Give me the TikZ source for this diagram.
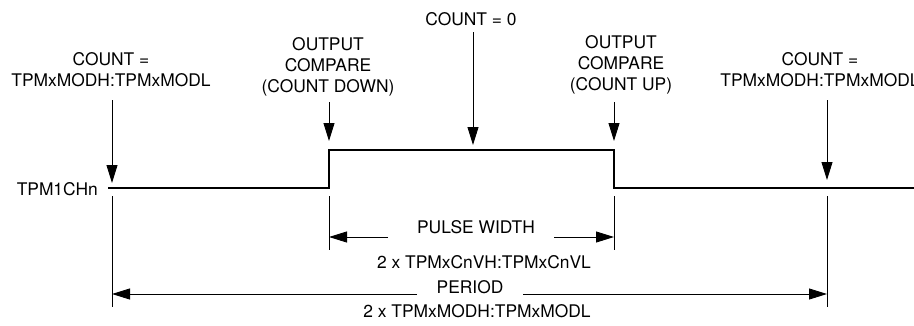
\documentclass[tikz,border=0pt]{standalone}
\usepackage{fontspec}
\setmainfont{TeX Gyre Heros}
\usetikzlibrary{arrows.meta}

\begin{document}
\begin{tikzpicture}[x=1pt,y=-1pt,
    etiq/.style={font=\fontsize{17.4}{21}\selectfont, align=center, inner sep=0pt},
    flecha/.style={-{Triangle[length=18pt,width=11pt]}, line width=0.9pt},
    marca/.style={line width=0.9pt},
    senal/.style={line width=2pt}]
    \useasboundingbox (0,0) rectangle (914,325);
    \clip (0,0) rectangle (914,325);

    % instantes sobre la señal
    \coordinate (t0) at (112,188);
    \coordinate (t1) at (329,188);
    \coordinate (t2) at (473,150);
    \coordinate (t3) at (614,188);
    \coordinate (t4) at (827,188);
    \coordinate (ini) at (108,188);
    \coordinate (fin) at (914,188);

    % señal
    \node[etiq, anchor=east] (ch) at (98,189) {TPM1CHn};
    \draw[senal] (ini) -- (t1) -- (t1 |- t2) -- (t3 |- t2) -- (t3) -- (fin);

    % etiquetas de arriba
    \node[etiq, anchor=south] (cL) at (111,87) {COUNT =\\TPMxMODH:TPMxMODL};
    \node[etiq, anchor=south] (cD) at (328,96) {OUTPUT\\COMPARE\\(COUNT DOWN)};
    \node[etiq, anchor=south] (cZ) at (471,26) {COUNT = 0};
    \node[etiq, anchor=south] (cU) at (621,94) {OUTPUT\\COMPARE\\(COUNT UP)};
    \node[etiq, anchor=south] (cR) at (820,87) {COUNT =\\TPMxMODH:TPMxMODL};

    % flechas hacia la señal
    \draw[flecha, shorten <=13pt, shorten >=5pt] (t0 |- cL.south) -- (t0);
    \draw[flecha, shorten <=6pt, shorten >=9pt] (t1 |- cD.south) -- (t1 |- t2);
    \draw[flecha, shorten <=6pt, shorten >=5pt] (t2 |- cZ.south) -- (t2);
    \draw[flecha, shorten <=8pt, shorten >=9pt] (t3 |- cU.south) -- (t3 |- t2);
    \draw[flecha, shorten <=13pt, shorten >=8pt] (t4 |- cR.south) -- (t4);

    % marcas verticales
    \coordinate (b0) at (112,307);
    \coordinate (b1) at (329,250);
    \coordinate (b3) at (614,250);
    \coordinate (b4) at (827,307);
    \draw[marca, shorten <=8pt] (t0) -- (b0);
    \draw[marca, shorten <=8pt] (t1) -- (b1);
    \draw[marca, shorten <=8pt] (t3) -- (b3);
    \draw[marca, shorten <=8pt] (t4) -- (b4);

    % ancho de pulso
    \node[etiq, anchor=base] (ancho) at (476,233) {PULSE WIDTH};
    \node[etiq, anchor=base] (anchov) at (484,268) {2 x TPMxCnVH:TPMxCnVL};
    \coordinate (pwL) at (388,237);
    \coordinate (pwR) at (554,237);
    \draw[flecha] (pwL) -- (b1 |- pwL);
    \draw[flecha] (pwR) -- (b3 |- pwR);

    % periodo
    \node[etiq, anchor=base] (per) at (470,293) {PERIOD};
    \node[etiq, anchor=base] (perv) at (477,317) {2 x TPMxMODH:TPMxMODL};
    \coordinate (pL) at (417,294);
    \coordinate (pR) at (523,294);
    \draw[flecha] (pL) -- (b0 |- pL);
    \draw[flecha] (pR) -- (b4 |- pR);
\end{tikzpicture}
\end{document}
